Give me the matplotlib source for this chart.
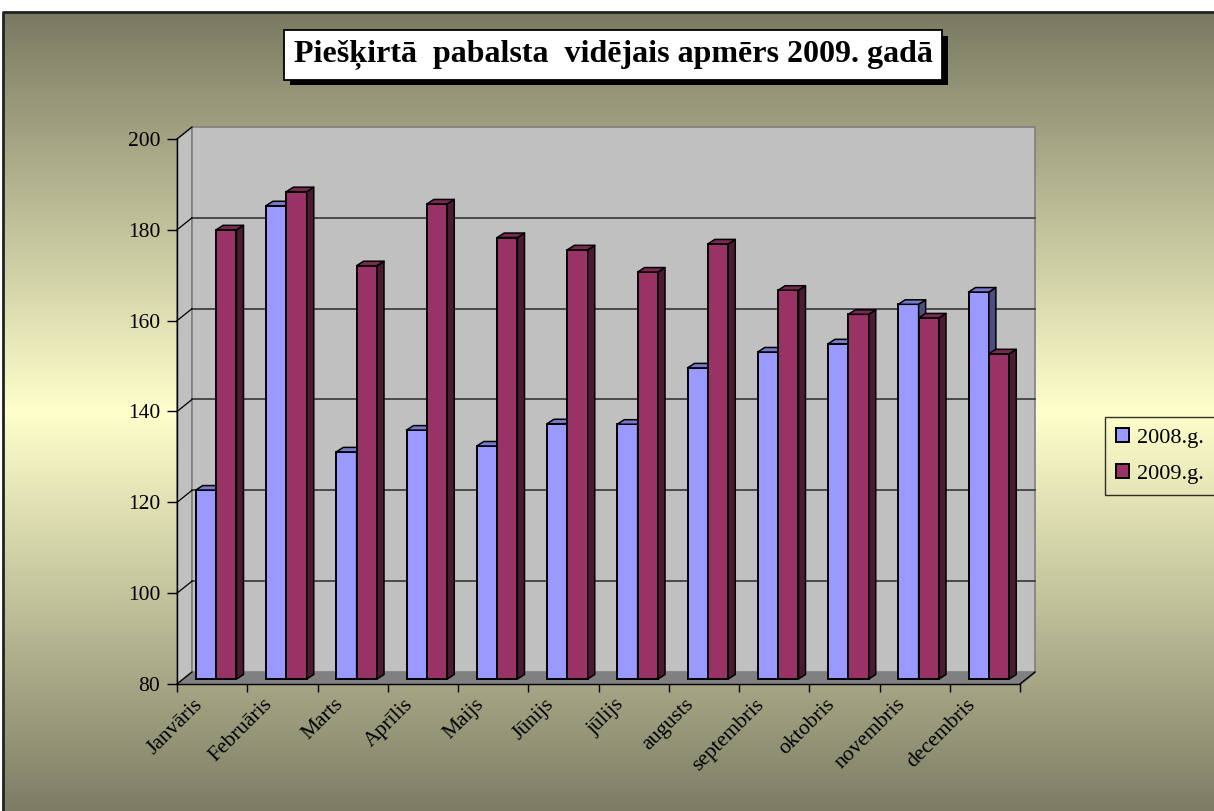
import numpy as np
import matplotlib.pyplot as plt
import matplotlib.patheffects as pe
from matplotlib.collections import PolyCollection
from matplotlib.colors import to_rgb

# data
months = ['Janvāris', 'Februāris', 'Marts', 'Aprīlis', 'Maijs', 'Jūnijs',
          'jūlijs', 'augusts', 'septembris', 'oktobris', 'novembris', 'decembris']
vals_2008 = [121.6, 184.2, 130.0, 134.8, 131.3, 136.2, 136.1, 148.5, 152.0, 153.8, 162.5, 165.2]
vals_2009 = [178.9, 187.3, 171.0, 184.6, 177.2, 174.5, 169.6, 175.8, 165.6, 160.3, 159.5, 151.6]
series_names = ['2008.g.', '2009.g.']
y_ticks = [80, 100, 120, 140, 160, 180, 200]
title = 'Piešķirtā  pabalsta  vidējais apmērs 2009. gadā'

SERIF = ['Liberation Serif', 'DejaVu Serif']
W, H = 1214, 811
fig = plt.figure(figsize=(W / 100, H / 100), dpi=100)

# background gradient (olive -> pale yellow -> olive)
bg = fig.add_axes([0, 0, 1, 1], zorder=-10)
top_c, mid_c, bot_c = np.array(to_rgb('#7a7a62')), np.array(to_rgb('#ffffcc')), np.array(to_rgb('#7d7d65'))
t = np.linspace(0, 1, 400)[:, None]
upper = top_c + (mid_c - top_c) * np.clip(t / 0.5, 0, 1)
lower = mid_c + (bot_c - mid_c) * np.clip((t - 0.5) / 0.5, 0, 1)
grad = np.where(t < 0.5, upper, lower)[:, None, :]
bg.imshow(grad, aspect='auto', extent=[3, W, H, 12])
bg.plot([3, 3, W], [H, 12, 12], color='#222222', lw=2)
bg.set_xlim(0, W)
bg.set_ylim(H, 0)
bg.axis('off')

# main axes = front plane of the 3D box
ax = fig.add_axes([177 / W, 1 - 684 / H, 843 / W, 545 / H])
ax.set_xlim(0, 12)
ax.set_ylim(80, 200)
ax.patch.set_visible(False)
px_x = 843 / 12      # pixels per category
px_y = 545 / 120     # pixels per unit

# wall depth and bar offsets in data units
dxw, dyw = 15 / px_x, 12 / px_y
fx, fy = 4 / px_x, 5 / px_y
ddx, ddy = 7 / px_x, 4.5 / px_y

walls = [
    [(0, 80), (0, 200), (dxw, 200 + dyw), (dxw, 80 + dyw)],
    [(dxw, 80 + dyw), (dxw, 200 + dyw), (12 + dxw, 200 + dyw), (12 + dxw, 80 + dyw)],
]
ax.add_collection(PolyCollection(walls, facecolors='#c0c0c0', edgecolors='#808080',
                                 linewidths=1.2, clip_on=False, zorder=0))
floor = [[(0, 80), (12, 80), (12 + dxw, 80 + dyw), (dxw, 80 + dyw)]]
ax.add_collection(PolyCollection(floor, facecolors='#808080', edgecolors='#808080',
                                 linewidths=1, clip_on=False, zorder=0.5))
for v in y_ticks[1:-1]:
    ax.plot([dxw, 12 + dxw], [v + dyw, v + dyw], color='#404040', lw=1.3,
            clip_on=False, zorder=1)
for v in y_ticks:
    ax.plot([0, dxw], [v, v + dyw], color='black', lw=0.9, clip_on=False, zorder=1)
ax.plot([12, 12 + dxw], [80, 80 + dyw], color='black', lw=1, clip_on=False, zorder=1)

# 3D bars
bw = 0.29
x = np.arange(len(months))
series = [
    (vals_2008, '#9999ff', '#4d4d80', '#7a7acc', 0.5 - bw + fx),
    (vals_2009, '#993366', '#4d1a33', '#7a2952', 0.5 + fx),
]
handles = []
for k, (vals, front, side, topc, shift) in enumerate(series):
    vals = np.array(vals)
    x0 = x + shift
    b0 = 80 + fy
    t0 = vals + fy
    bars = ax.bar(x0, vals - 80, width=bw, bottom=b0, align='edge', color=front,
                  edgecolor='black', linewidth=1.4, clip_on=False, zorder=3 + k,
                  label=series_names[k])
    handles.append(bars)
    sides = [[(a + bw, b0), (a + bw, h), (a + bw + ddx, h + ddy), (a + bw + ddx, b0 + ddy)]
             for a, h in zip(x0, t0)]
    tops = [[(a, h), (a + bw, h), (a + bw + ddx, h + ddy), (a + ddx, h + ddy)]
            for a, h in zip(x0, t0)]
    ax.add_collection(PolyCollection(sides, facecolors=side, edgecolors='black',
                                     linewidths=1.1, clip_on=False, zorder=3.2 + k))
    ax.add_collection(PolyCollection(tops, facecolors=topc, edgecolors='black',
                                     linewidths=1.1, clip_on=False, zorder=3.2 + k))

# axes, ticks and labels
for s in ['top', 'right']:
    ax.spines[s].set_visible(False)
for s in ['left', 'bottom']:
    ax.spines[s].set_color('black')
    ax.spines[s].set_linewidth(1)
    ax.spines[s].set_zorder(2)
ax.set_yticks(y_ticks)
ax.set_yticklabels([str(v) for v in y_ticks], fontfamily=SERIF, fontsize=15.5)
ax.tick_params(axis='y', length=7, width=1, pad=5, colors='black')
ax.set_xticks(np.arange(13))
ax.set_xticklabels([])
ax.tick_params(axis='x', which='major', length=6, width=1)
ax.set_xticks(x + 0.42, minor=True)
ax.set_xticklabels(months, minor=True, rotation=45, ha='right', va='top',
                   fontfamily=SERIF, fontsize=15.5)
ax.tick_params(axis='x', which='minor', length=0, pad=8)

# title box with shadow
ttl = fig.text(613 / W, 1 - 55 / H, title, ha='center', va='center',
               fontfamily=SERIF, fontsize=23, fontweight='bold',
               bbox=dict(boxstyle='square,pad=0.3', fc='white', ec='black', lw=1.3))
ttl.get_bbox_patch().set_path_effects([
    pe.SimplePatchShadow(offset=(4, -4), shadow_rgbFace='black', alpha=1.0),
    pe.Normal()])

# legend
leg = fig.legend(handles=handles, labels=series_names, loc='center left',
                 bbox_to_anchor=(1105 / W, 1 - 456 / H), borderaxespad=0,
                 prop={'family': SERIF, 'size': 16}, frameon=True, fancybox=False,
                 handlelength=0.6, handleheight=0.6, handletextpad=0.35,
                 labelspacing=0.7, borderpad=0.5)
leg.get_frame().set_edgecolor('black')
leg.get_frame().set_facecolor('none')
leg.get_frame().set_linewidth(1)

fig.savefig('out.png', dpi=100)
